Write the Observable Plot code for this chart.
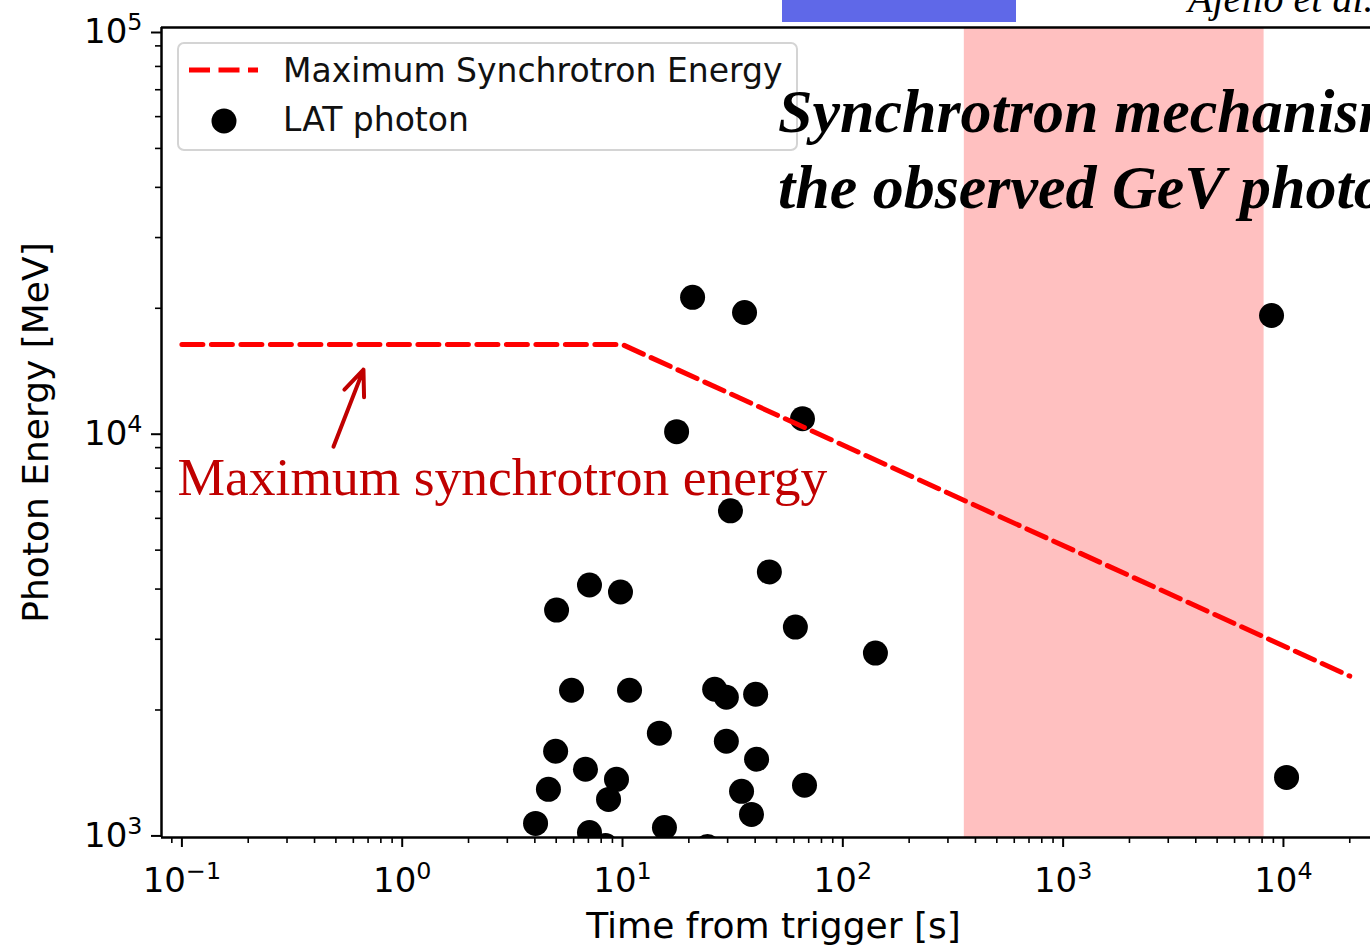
<!DOCTYPE html>
<html><head><meta charset="utf-8">
<script src="https://cdn.jsdelivr.net/npm/d3@7"></script>
<script src="https://cdn.jsdelivr.net/npm/@observablehq/plot@0.6"></script>
<style>
html,body{margin:0;padding:0;background:#fff;overflow:hidden;width:1370px;height:946px}
#wrap{position:relative;width:1370px;height:946px;overflow:hidden}
#wrap svg{position:absolute;left:0;top:0}
#overlay{pointer-events:none}
</style></head><body><div id="wrap"></div>
<script>
// ---- data ----
const photonTime   = [20.8, 35.8, 8830, 65.6, 17.6, 30.9, 7.08, 5.02, 9.79, 46.4, 60.9, 140.6,
                      5.87, 10.76, 26.2, 29.6, 40.2, 14.7, 29.6, 4.97, 6.79, 9.39, 40.6, 4.61,
                      8.64, 34.7, 67.0, 10330, 4.03, 7.08, 15.5, 38.5, 8.37, 24.3];
const photonEnergy = [21300, 19520, 19190, 10620, 9860, 6263, 4095, 3547, 3934, 4413, 3217, 2771,
                      2240, 2240, 2253, 2152, 2189, 1751, 1672, 1579, 1424, 1344, 1508, 1269,
                      1198, 1255, 1299, 1359, 1044, 991, 1020, 1099, 920, 915];
const maxSyncTime   = [0.1, 10, 20000];
const maxSyncEnergy = [16240, 16240, 2429];
const bandStart = [356];
const bandEnd   = [8170];
const xDomain = [0.0808, 24840];
const yDomain = [963, 100000];
const xMajorTicks = [0.1, 1, 10, 100, 1000, 10000];
const xTickExp = ["\u22121", "0", "1", "2", "3", "4"];
const yMajorTicks = [1000, 10000, 100000];
const yTickExp = ["3", "4", "5"];
const xLabel = "Time from trigger [s]";
const yLabel = "Photon Energy [MeV]";
const legendLabels = ["Maximum Synchrotron Energy", "LAT photon"];
const annotationText = ["Maximum synchrotron energy"];
const annotationTime = [0.0955];
const annotationEnergy = [7570];
const arrowFrom = [0.4875, 9045];
const arrowTo   = [0.667, 14070];
const headline = ["Synchrotron mechanism cannot explain", "the observed GeV photons"];
const citation = "Ajello et al.";

// ---- derived tables ----
const photons = photonTime.map((t, i) => ({t, e: photonEnergy[i]}));
const maxSync = maxSyncTime.map((t, i) => ({t, e: maxSyncEnergy[i]}));
const bands = bandStart.map((s, i) => ({t1: s, t2: bandEnd[i]}));
const minorOf = (lo, hi, dom) => {
  const out = [];
  for (let p = lo; p <= hi; p++) for (let m = 2; m <= 9; m++) {
    const v = m * Math.pow(10, p);
    if (v >= dom[0] && v <= dom[1]) out.push(v);
  }
  return out;
};
const xMinor = minorOf(-2, 4, xDomain);
const yMinor = minorOf(2, 4, yDomain);
const fx = d => "10^" + xTickExp[xMajorTicks.indexOf(d)];
const fy = d => "10^" + yTickExp[yMajorTicks.indexOf(d)];
const annot = annotationText.map((s, i) => ({s, t: annotationTime[i], e: annotationEnergy[i]}));

const chart = Plot.plot({
  width: 1370, height: 946,
  marginLeft: 161, marginRight: 0, marginTop: 27, marginBottom: 109,
  style: {fontFamily: "'DejaVu Sans', sans-serif", background: "transparent", overflow: "visible", color: "black"},
  x: {type: "log", domain: xDomain, label: null},
  y: {type: "log", domain: yDomain, label: null},
  marks: [
    Plot.rect(bands, {x1: "t1", x2: "t2", fill: "#ffc0c0"}),
    Plot.dot(photons, {x: "t", y: "e", r: 12.5, fill: "black", clip: true}),
    Plot.line(maxSync, {x: "t", y: "e", stroke: "#ff0000", strokeWidth: 5, strokeDasharray: "21,8.5", clip: true}),
    Plot.ruleX([xDomain[0]], {stroke: "black", strokeWidth: 2.5}),
    Plot.ruleY([yDomain[0], yDomain[1]], {stroke: "black", strokeWidth: 2.5}),
    Plot.axisX(xMinor, {tickSize: 6, strokeWidth: 1.6, tickFormat: () => "", label: null}),
    Plot.axisX(xMajorTicks, {tickSize: 10, strokeWidth: 2, tickPadding: 20, tickFormat: fx, fontSize: 34, label: null}),
    Plot.axisY(yMinor, {tickSize: 6, strokeWidth: 1.6, tickFormat: () => "", label: null}),
    Plot.axisY(yMajorTicks, {tickSize: 10, strokeWidth: 2, tickPadding: 9, tickFormat: fy, fontSize: 34, dy: 5, label: null}),
    Plot.text([xLabel], {frameAnchor: "bottom", textAnchor: "middle", lineAnchor: "middle", dx: 7.5, dy: 88.5, fontSize: 36, fill: "black"}),
    Plot.text([yLabel], {frameAnchor: "left", textAnchor: "middle", lineAnchor: "middle", dx: -125, rotate: -90, fontSize: 36, fill: "black"}),
    Plot.arrow([{x1: arrowFrom[0], y1: arrowFrom[1], x2: arrowTo[0], y2: arrowTo[1]}],
      {x1: "x1", y1: "y1", x2: "x2", y2: "y2", stroke: "#c00000", strokeWidth: 4, headLength: 18, headAngle: 45}),
    Plot.text(annot, {x: "t", y: "e", text: "s", textAnchor: "start", fontSize: 53.5,
      fontFamily: "'Liberation Serif', serif", fill: "#c00000"})
  ]
});
document.getElementById("wrap").appendChild(chart);

// mathtext-like superscripts for the tick labels
chart.querySelectorAll("text").forEach(t => {
  const s = t.textContent;
  if (/^10\^/.test(s)) {
    const exp = s.slice(3);
    t.textContent = "";
    const base = document.createElementNS("http://www.w3.org/2000/svg", "tspan");
    base.textContent = "10";
    const sup = document.createElementNS("http://www.w3.org/2000/svg", "tspan");
    sup.textContent = exp;
    sup.setAttribute("font-size", "70%");
    sup.setAttribute("dy", "-0.55em");
    t.appendChild(base); t.appendChild(sup);
  }
});

// ---- overlay: legend, title decorations ----
const NS = "http://www.w3.org/2000/svg";
const ov = document.createElementNS(NS, "svg");
ov.setAttribute("id", "overlay");
ov.setAttribute("width", 1370); ov.setAttribute("height", 946);
const add = (tag, attrs, text) => {
  const el = document.createElementNS(NS, tag);
  for (const k in attrs) el.setAttribute(k, attrs[k]);
  if (text != null) el.textContent = text;
  ov.appendChild(el); return el;
};
// legend
add("rect", {x: 178, y: 43, width: 619, height: 107, rx: 6, fill: "white", "fill-opacity": 0.8, stroke: "#d4d4d4", "stroke-width": 2});
add("line", {x1: 189, x2: 258, y1: 70, y2: 70, stroke: "#ff0000", "stroke-width": 5, "stroke-dasharray": "21,8.5"});
add("circle", {cx: 224, cy: 121, r: 12.5, fill: "black"});
add("text", {x: 283, y: 70, dy: "0.35em", "font-family": "'DejaVu Sans', sans-serif", "font-size": 33, fill: "#111"}, legendLabels[0]);
add("text", {x: 283, y: 119, dy: "0.35em", "font-family": "'DejaVu Sans', sans-serif", "font-size": 33, fill: "#111"}, legendLabels[1]);
// decorations
add("rect", {x: 782, y: 0, width: 234, height: 22, fill: "#5f68e8"});
add("text", {x: 1188, y: 12, "font-family": "'Liberation Serif', serif", "font-style": "italic", "font-size": 40, fill: "black"}, citation);
headline.forEach((s, i) => add("text", {x: 778, y: 132 + i * 76, "font-family": "'Liberation Serif', serif",
  "font-style": "italic", "font-weight": "bold", "font-size": 62, fill: "black"}, s));
document.getElementById("wrap").appendChild(ov);
</script>
</body></html>
